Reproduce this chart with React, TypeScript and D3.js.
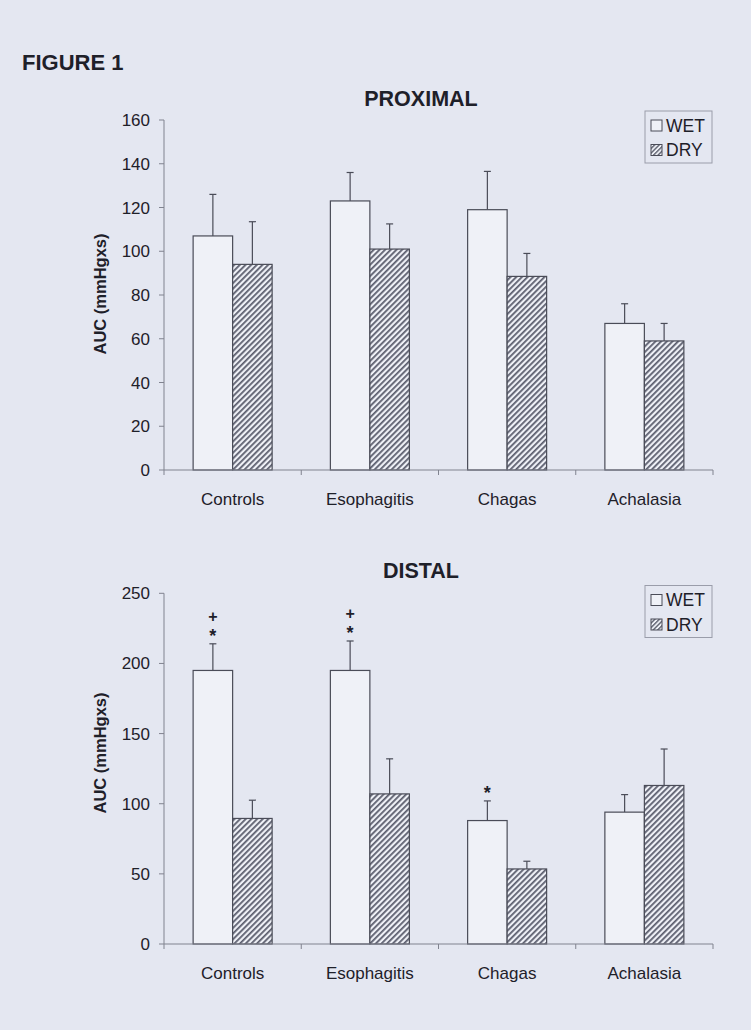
import React from "react";
import * as d3 from "d3";

const categories = ["Controls", "Esophagitis", "Chagas", "Achalasia"];
const seriesNames = ["WET", "DRY"];

const proximalWet = [107, 123, 119, 67];
const proximalWetErr = [19, 13, 17.5, 9];
const proximalDry = [94, 101, 88.5, 59];
const proximalDryErr = [19.5, 11.5, 10.5, 8];

const distalWet = [195, 195, 88, 94];
const distalWetErr = [19, 21, 14, 12.5];
const distalDry = [89.5, 107, 53.5, 113];
const distalDryErr = [13, 25, 5.5, 26];

const distalWetMarks = [["+", "*"], ["+", "*"], ["*"], []];

const proximalTicks = [0, 20, 40, 60, 80, 100, 120, 140, 160];
const distalTicks = [0, 50, 100, 150, 200, 250];

const FONT = "'Liberation Sans', Arial, Helvetica, sans-serif";
const BG = "#e4e7f1";
const AXIS = "#80838f";
const TEXT = "#1e2029";
const BAR_STROKE = "#4a4c58";

interface PanelProps {
  title: string;
  titleY: number;
  top: number;
  bottom: number;
  yMax: number;
  ticks: number[];
  wet: number[];
  wetErr: number[];
  dry: number[];
  dryErr: number[];
  marks?: string[][];
  legendY: number;
  labelCenterY: number;
}

function Panel(p: PanelProps) {
  const left = 164;
  const right = 713;
  const y = d3.scaleLinear().domain([0, p.yMax]).range([p.bottom, p.top]);
  const x = d3.scaleBand<string>().domain(categories).range([left, right]).padding(0);
  const groupW = 79;
  const inner = (c: string) => {
    const cx = (x(c) as number) + x.bandwidth() / 2;
    return d3.scaleBand<string>().domain(seriesNames).range([cx - groupW / 2, cx + groupW / 2]).padding(0);
  };
  const boundaries = categories.map((c) => x(c) as number).concat([right]);
  const series = [
    { name: "WET", vals: p.wet, errs: p.wetErr, fill: "#eff1f7" },
    { name: "DRY", vals: p.dry, errs: p.dryErr, fill: "url(#hatch)" },
  ];
  return (
    <g>
      <text x={421} y={p.titleY} textAnchor="middle" fontFamily={FONT} fontWeight="bold" fontSize={21.5} fill={TEXT}>
        {p.title}
      </text>
      {/* y axis */}
      <line x1={left} x2={left} y1={p.top} y2={p.bottom} stroke={AXIS} strokeWidth={1} />
      {p.ticks.map((t) => (
        <g key={t}>
          <line x1={left - 5} x2={left} y1={y(t)} y2={y(t)} stroke={AXIS} strokeWidth={1} />
          <text x={left - 14} y={y(t) + 6} textAnchor="end" fontFamily={FONT} fontSize={17} fill={TEXT}>
            {t}
          </text>
        </g>
      ))}
      <text
        transform={`translate(${106},${p.labelCenterY}) rotate(-90)`}
        textAnchor="middle"
        fontFamily={FONT}
        fontWeight="bold"
        fontSize={16.5}
        fill={TEXT}
      >
        AUC (mmHgxs)
      </text>
      {/* bars */}
      {categories.map((c, i) => {
        const xi = inner(c);
        const wetCx = (xi("WET") as number) + xi.bandwidth() / 2;
        const marks = p.marks ? p.marks[i] : [];
        const topErr = y(p.wet[i] + p.wetErr[i]);
        return (
          <g key={c}>
            {series.map((s) => {
              const bx = xi(s.name) as number;
              const bw = xi.bandwidth();
              const v = s.vals[i];
              const e = s.errs[i];
              const cx = bx + bw / 2;
              return (
                <g key={s.name}>
                  <line x1={cx} x2={cx} y1={y(v)} y2={y(v + e)} stroke={BAR_STROKE} strokeWidth={1.2} />
                  <line x1={cx - 3.5} x2={cx + 3.5} y1={y(v + e)} y2={y(v + e)} stroke={BAR_STROKE} strokeWidth={1.2} />
                  <rect x={bx} y={y(v)} width={bw} height={p.bottom - y(v)} fill={s.fill} stroke={BAR_STROKE} strokeWidth={1.2} />
                </g>
              );
            })}
            {marks.map((m, k) => {
              const n = marks.length;
              // visual centre of each mark above the error cap
              const cy = topErr - 12.5 - (n - 1 - k) * 15;
              const fs = m === "*" ? 18 : 16;
              const base = m === "*" ? cy + 0.58 * fs : cy + 0.33 * fs;
              return (
                <text key={k} x={wetCx} y={base} textAnchor="middle" fontFamily={FONT} fontWeight="bold" fontSize={fs} fill={TEXT}>
                  {m}
                </text>
              );
            })}
          </g>
        );
      })}
      {/* x axis */}
      <line x1={left} x2={right} y1={p.bottom} y2={p.bottom} stroke={AXIS} strokeWidth={1} />
      {boundaries.map((b, i) => (
        <line key={i} x1={b} x2={b} y1={p.bottom} y2={p.bottom + 5} stroke={AXIS} strokeWidth={1} />
      ))}
      {categories.map((c) => (
        <text key={c} x={(x(c) as number) + x.bandwidth() / 2} y={p.bottom + 34.5} textAnchor="middle" fontFamily={FONT} fontSize={17} fill={TEXT}>
          {c}
        </text>
      ))}
      {/* legend */}
      <g transform={`translate(645,${p.legendY})`}>
        <rect x={0} y={0} width={67} height={52} fill="none" stroke="#9a9daa" strokeWidth={1} />
        {seriesNames.map((s, i) => (
          <g key={s} transform={`translate(0,${i * 24.5})`}>
            <rect x={6} y={9} width={11} height={11} fill={s === "WET" ? "#eff1f7" : "url(#hatchSmall)"} stroke={BAR_STROKE} strokeWidth={1} />
            <text x={21} y={20.5} fontFamily={FONT} fontSize={17.5} fill={TEXT}>
              {s}
            </text>
          </g>
        ))}
      </g>
    </g>
  );
}

export default function App() {
  return (
    <svg
      width={751}
      height={1030}
      viewBox="0 0 751 1030"
      style={{ position: "absolute", left: 0, top: 0, display: "block" }}
    >
      <defs>
        <pattern id="hatch" patternUnits="userSpaceOnUse" width={4} height={4} patternTransform="rotate(45)">
          <rect width={4} height={4} fill="#eef0f6" />
          <line x1={0.9} y1={0} x2={0.9} y2={4} stroke="#545767" strokeWidth={1.7} />
        </pattern>
        <pattern id="hatchSmall" patternUnits="userSpaceOnUse" width={3.2} height={3.2} patternTransform="rotate(45)">
          <rect width={3.2} height={3.2} fill="#eef0f6" />
          <line x1={0.7} y1={0} x2={0.7} y2={3.2} stroke="#545767" strokeWidth={1.3} />
        </pattern>
      </defs>
      <rect x={0} y={0} width={751} height={1030} fill={BG} />
      <text x={22} y={70} fontFamily={FONT} fontWeight="bold" fontSize={22} fill={TEXT}>
        FIGURE 1
      </text>
      <Panel
        title="PROXIMAL"
        titleY={105.5}
        top={120}
        bottom={470}
        yMax={160}
        ticks={proximalTicks}
        wet={proximalWet}
        wetErr={proximalWetErr}
        dry={proximalDry}
        dryErr={proximalDryErr}
        legendY={111}
        labelCenterY={294}
      />
      <Panel
        title="DISTAL"
        titleY={577.5}
        top={593.3}
        bottom={944}
        yMax={250}
        ticks={distalTicks}
        wet={distalWet}
        wetErr={distalWetErr}
        dry={distalDry}
        dryErr={distalDryErr}
        marks={distalWetMarks}
        legendY={585.5}
        labelCenterY={753}
      />
    </svg>
  );
}
